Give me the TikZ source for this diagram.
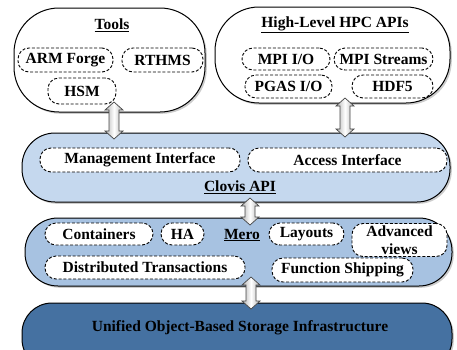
\documentclass[tikz,border=0pt]{standalone}
\usepackage{fontspec}
\setmainfont{Liberation Serif}
\usetikzlibrary{shadows,calc}
\definecolor{clovisblue}{RGB}{197,216,238}
\definecolor{meroblue}{RGB}{167,194,225}
\definecolor{storeblue}{RGB}{69,113,161}
\newcommand\blockarrow[2]{%
  \path[blockarr] let \p1=(#1), \p2=(#2) in
    (\x1-5pt,\y1-8pt) -- (\x1-9pt,\y1-8pt) -- (\x1,\y1) -- (\x1+9pt,\y1-8pt) --
    (\x1+5pt,\y1-8pt) -- (\x2+5pt,\y2+8pt) -- (\x2+9pt,\y2+8pt) -- (\x2,\y2) --
    (\x2-9pt,\y2+8pt) -- (\x2-5pt,\y2+8pt) -- cycle;}
\begin{document}
\begin{tikzpicture}[x=1pt,y=-1pt,
  font=\fontsize{15.5}{17}\selectfont\bfseries,
  outerbox/.style={draw=black, line width=1pt, inner sep=0pt,
    drop shadow={opacity=0.4,shadow xshift=1.8pt,shadow yshift=-1.8pt}},
  inbox/.style={draw=black, dash pattern=on 3pt off 1.8pt, line width=0.9pt,
    fill=white, inner sep=0pt, rounded corners=11pt},
  titletext/.style={inner sep=0pt},
  blockarr/.style={draw=gray!55!black, line width=0.7pt, line join=miter,
    left color=gray!60, right color=gray!60, middle color=white}]
\clip (0,0) rectangle (457,349);
% outer containers
\node[outerbox, fill=white, rounded corners=45pt, minimum width=191pt, minimum height=104pt] (tools) at (109.5,60) {};
\node[outerbox, fill=white, rounded corners=44pt, minimum width=235pt, minimum height=96pt] (hpc) at (332.5,55) {};
\node[outerbox, fill=clovisblue, rounded corners=33pt, minimum width=428pt, minimum height=69pt] (clovis) at (236,167.5) {};
\node[outerbox, fill=meroblue, rounded corners=33pt, minimum width=427pt, minimum height=68pt] (mero) at (238.5,252) {};
\node[outerbox, fill=storeblue, rounded corners=30pt, minimum width=430pt, minimum height=66pt] (store) at (237,336) {};
% Tools
\node[titletext] (toolst) at (112,25) {\underline{Tools}};
\node[inbox, minimum width=95pt, minimum height=24pt] (arm) at (65.5,60) {ARM Forge};
\node[inbox, minimum width=81pt, minimum height=24pt] (rthms) at (162.5,60) {RTHMS};
\node[inbox, minimum width=68pt, minimum height=26pt] (hsm) at (82,91) {HSM};
% HPC APIs
\node[titletext] (hpct) at (335,25) {\underline{High-Level HPC APIs}};
\node[inbox, minimum width=88pt, minimum height=22pt] (mpiio) at (286,59) {MPI I/O};
\node[inbox, minimum width=99pt, minimum height=22pt] (mpis) at (383.5,59) {MPI Streams};
\node[inbox, minimum width=87pt, minimum height=23pt] (pgas) at (288.5,86.5) {PGAS I/O};
\node[inbox, minimum width=81pt, minimum height=23pt] (hdf) at (392.5,86.5) {HDF5};
% Clovis
\node[inbox, minimum width=200pt, minimum height=24pt] (mgmt) at (140,160) {Management Interface};
\node[inbox, minimum width=199pt, minimum height=24pt] (acc) at (347.5,160) {Access Interface};
\node[titletext] (clovist) at (240,187) {\underline{Clovis API}};
% Mero
\node[inbox, minimum width=108pt, minimum height=22pt] (cont) at (99,234) {Containers};
\node[inbox, minimum width=43pt, minimum height=22pt] (ha) at (182.5,234) {HA};
\node[titletext] (merot) at (242,235) {\underline{Mero}};
\node[inbox, minimum width=75pt, minimum height=22pt] (lay) at (306.5,234) {Layouts};
\node[inbox, minimum width=95pt, minimum height=33pt, align=center,
  font=\fontsize{15.5}{18}\selectfont\bfseries] (adv) at (399.5,240) {Advanced\\views};
\node[inbox, minimum width=200pt, minimum height=23pt] (dist) at (145,267.5) {Distributed Transactions};
\node[inbox, minimum width=141pt, minimum height=24pt] (func) at (342.5,270) {Function Shipping};
% Storage
\node[titletext] (storet) at (240,328) {Unified Object-Based Storage Infrastructure};
% connectors (block double arrows)
\coordinate (a1t) at (114,102); \coordinate (a1b) at (114,139);
\coordinate (a2t) at (345,98);  \coordinate (a2b) at (345,137);
\coordinate (a3t) at (250,198); \coordinate (a3b) at (250,225);
\coordinate (a4t) at (251,277); \coordinate (a4b) at (251,309);
\blockarrow{a1t}{a1b}
\blockarrow{a2t}{a2b}
\blockarrow{a3t}{a3b}
\blockarrow{a4t}{a4b}
\end{tikzpicture}
\end{document}
